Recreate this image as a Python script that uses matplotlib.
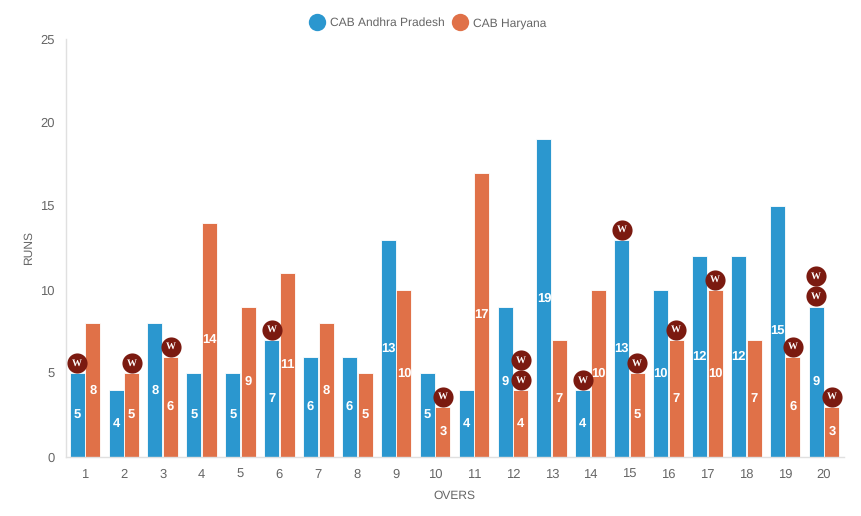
import matplotlib
matplotlib.use("Agg")
import matplotlib.pyplot as plt
from matplotlib.lines import Line2D

plt.rcParams['font.family'] = ['Liberation Sans', 'DejaVu Sans']
plt.rcParams['text.hinting'] = 'no_hinting'
plt.rcParams['text.hinting_factor'] = 1

overs = list(range(1, 21))
andhra = [5, 4, 8, 5, 5, 7, 6, 6, 13, 5, 4, 9, 19, 4, 13, 10, 12, 12, 15, 9]
haryana = [8, 5, 6, 14, 9, 11, 8, 5, 10, 3, 17, 4, 7, 10, 5, 7, 10, 7, 6, 3]
andhra_wkts = [1, 0, 0, 0, 0, 1, 0, 0, 0, 0, 0, 0, 0, 1, 1, 0, 0, 0, 0, 2]
haryana_wkts = [0, 1, 1, 0, 0, 0, 0, 0, 0, 1, 0, 2, 0, 0, 1, 1, 1, 0, 1, 1]
yticks = [0, 5, 10, 15, 20, 25]

BLUE, ORANGE, MAROON = '#2b97cf', '#e07148', '#7b1a10'
GREY, AXIS = '#666666', '#e0e0e0'
W, H = 861, 516

fig = plt.figure(figsize=(W / 100, H / 100), dpi=100)
ax = fig.add_axes([65.5 / W, 1 - 457 / H, 778 / W, 418 / H])
ax.set_xlim(0.5, 20.5)
ax.set_ylim(0, 25)

offset = 0.2
width = 0.385
for vals, wkts, col, sgn in ((andhra, andhra_wkts, BLUE, -1), (haryana, haryana_wkts, ORANGE, 1)):
    xs = [o + sgn * offset for o in overs]
    ax.bar(xs, vals, width=width, color=col, edgecolor='#ffffff', linewidth=0.6, zorder=2)
    for x, v, n in zip(xs, vals, wkts):
        ax.text(x, v / 2, str(v), color='white', fontsize=9, fontweight='bold',
                ha='center', va='center', zorder=3)
        for k in range(n):
            y = v + 0.6 + k * 1.2
            ax.plot([x], [y], 'o', ms=14.5, color=MAROON, mec='none', zorder=4, clip_on=False)
            ax.text(x, y, 'W', color='white', fontsize=7.5, fontweight='bold',
                    family='Liberation Serif', ha='center', va='center', zorder=5)

for s in ('top', 'right'):
    ax.spines[s].set_visible(False)
for s in ('left', 'bottom'):
    ax.spines[s].set_color(AXIS)
    ax.spines[s].set_linewidth(1)

ax.set_xticks(overs)
ax.set_yticks(yticks)
ax.tick_params(axis='both', length=0, labelsize=9, labelcolor=GREY, pad=8)
ax.set_xlabel('OVERS', fontsize=8.6, color=GREY, labelpad=7)
ax.set_ylabel('RUNS', fontsize=8.6, color=GREY, labelpad=4)

handles = [Line2D([], [], marker='o', ls='', ms=12.5, color=BLUE, mec='none'),
           Line2D([], [], marker='o', ls='', ms=12.5, color=ORANGE, mec='none')]
fig.legend(handles, ['CAB Andhra Pradesh', 'CAB Haryana'], ncol=2, frameon=False,
           loc='center', bbox_to_anchor=(427 / W, 1 - 23 / H), fontsize=8.6,
           labelcolor=GREY, handletextpad=0.3, columnspacing=0.5, handlelength=1.6)

fig.savefig('out.png', dpi=100)
